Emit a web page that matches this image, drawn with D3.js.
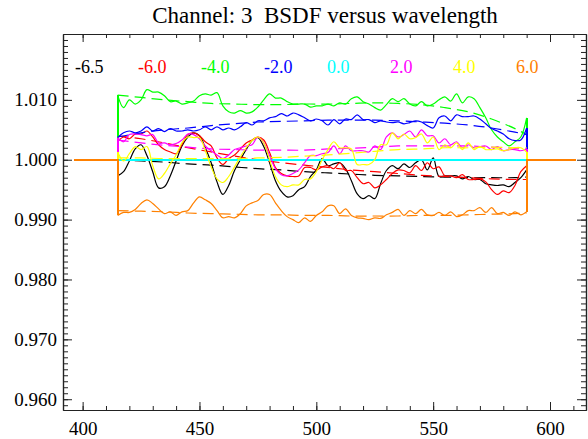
<!DOCTYPE html>
<html lang="en">
<head>
    <meta charset="UTF-8">
    <title>BSDF versus wavelength</title>
    <style>
        body { margin: 0; background: #fff; }
        text { font-family: "Liberation Serif", "Times New Roman", serif; }
    </style>
</head>
<body>
<script src="https://d3js.org/d3.v7.min.js"></script>

<div id="my_data"></div>

<script type="text/javascript">

    // wavelength grid (nm)
    var wavelengths = [415, 417.5, 420, 422.5, 425, 427.5, 430, 432.5, 435, 437.5,
        440, 442.5, 445, 447.5, 450, 452.5, 455, 457.5, 460, 462.5,
        465, 467.5, 470, 472.5, 475, 477.5, 480, 482.5, 485, 487.5,
        490, 492.5, 495, 497.5, 500, 502.5, 505, 507.5, 510, 512.5,
        515, 517.5, 520, 522.5, 525, 527.5, 530, 532.5, 535, 537.5,
        540, 542.5, 545, 547.5, 550, 552.5, 555, 557.5, 560, 562.5,
        565, 567.5, 570, 572.5, 575, 577.5, 580, 582.5, 585, 587.5,
        590];
    var fitWavelengths = [415, 425, 435, 445, 455, 465, 475, 485, 495, 505,
        515, 525, 535, 545, 555, 565, 575, 585, 590];
    // outside the measured range everything sits at 1.0
    var edgeWavelengths = [396.5, 611];
    var baseValue = 1.0;

    var angleLabels = ["-6.5", "-6.0", "-4.0", "-2.0", "0.0", "2.0", "4.0", "6.0"];
    var colors = ["#000000", "#ff0000", "#00ff00", "#0000ff", "#00ffff", "#ff00ff", "#ffff00", "#ff8000"];

    var bsdfM65 = [0.9973, 0.9980, 0.9998, 1.0018, 1.0025, 1.0007, 0.9980, 0.9953, 0.9955, 0.9973,
        0.9998, 1.0023, 1.0038, 1.0045, 1.0040, 1.0020, 0.9995, 0.9963, 0.9942, 0.9957,
        0.9982, 1.0000, 1.0017, 1.0032, 1.0037, 1.0022, 0.9995, 0.9965, 0.9947, 0.9938,
        0.9940, 0.9950, 0.9955, 0.9972, 0.9983, 1.0002, 0.9990, 0.9993, 0.9995, 0.9985,
        0.9965, 0.9943, 0.9935, 0.9940, 0.9935, 0.9960, 0.9982, 0.9990, 0.9985, 0.9993,
        0.9987, 0.9995, 1.0000, 0.9983, 1.0003, 0.9972, 0.9973, 0.9973, 0.9973, 0.9968,
        0.9972, 0.9967, 0.9967, 0.9960, 0.9958, 0.9957, 0.9958, 0.9955, 0.9962, 0.9970,
        0.9983];
    var bsdfM60 = [1.0030, 1.0038, 1.0035, 1.0043, 1.0043, 1.0048, 1.0038, 1.0025, 1.0017, 1.0013,
        1.0010, 1.0025, 1.0042, 1.0045, 1.0040, 1.0030, 1.0023, 1.0003, 0.9992, 1.0002,
        1.0008, 1.0018, 1.0028, 1.0033, 1.0038, 1.0033, 1.0012, 0.9987, 0.9977, 0.9973,
        0.9972, 0.9973, 0.9987, 0.9987, 0.9983, 0.9988, 0.9990, 0.9985, 0.9995, 0.9982,
        0.9982, 0.9970, 0.9960, 0.9962, 0.9953, 0.9958, 0.9967, 0.9977, 0.9983, 0.9982,
        0.9978, 0.9990, 0.9982, 0.9995, 0.9985, 0.9988, 0.9973, 0.9973, 0.9970, 0.9975,
        0.9967, 0.9967, 0.9968, 0.9963, 0.9950, 0.9942, 0.9948, 0.9945, 0.9957, 0.9980,
        0.9990];
    var bsdfM40 = [1.0108, 1.0087, 1.0100, 1.0093, 1.0100, 1.0117, 1.0113, 1.0113, 1.0107, 1.0097,
        1.0098, 1.0093, 1.0095, 1.0098, 1.0107, 1.0110, 1.0108, 1.0112, 1.0090, 1.0080,
        1.0078, 1.0082, 1.0078, 1.0080, 1.0088, 1.0100, 1.0110, 1.0103, 1.0103, 1.0097,
        1.0093, 1.0093, 1.0093, 1.0088, 1.0090, 1.0090, 1.0093, 1.0090, 1.0095, 1.0093,
        1.0102, 1.0105, 1.0097, 1.0093, 1.0087, 1.0083, 1.0092, 1.0102, 1.0097, 1.0102,
        1.0093, 1.0090, 1.0097, 1.0090, 1.0093, 1.0100, 1.0105, 1.0098, 1.0110, 1.0095,
        1.0105, 1.0102, 1.0087, 1.0070, 1.0050, 1.0038, 1.0030, 1.0023, 1.0030, 1.0038,
        1.0070];
    var bsdfM20 = [1.0037, 1.0045, 1.0048, 1.0045, 1.0048, 1.0055, 1.0048, 1.0052, 1.0047, 1.0052,
        1.0048, 1.0048, 1.0050, 1.0048, 1.0050, 1.0055, 1.0050, 1.0055, 1.0050, 1.0053,
        1.0050, 1.0055, 1.0062, 1.0058, 1.0065, 1.0065, 1.0070, 1.0072, 1.0077, 1.0073,
        1.0078, 1.0075, 1.0070, 1.0065, 1.0068, 1.0065, 1.0058, 1.0067, 1.0060, 1.0068,
        1.0067, 1.0075, 1.0067, 1.0067, 1.0062, 1.0065, 1.0063, 1.0062, 1.0063, 1.0060,
        1.0062, 1.0065, 1.0063, 1.0057, 1.0053, 1.0070, 1.0073, 1.0065, 1.0075, 1.0072,
        1.0072, 1.0073, 1.0068, 1.0060, 1.0052, 1.0048, 1.0043, 1.0035, 1.0032, 1.0033,
        1.0053];
    var bsdf00 = [1.0000, 1.0000, 1.0000, 1.0000, 1.0000, 1.0000, 1.0000, 1.0000, 1.0000, 1.0000,
        1.0000, 1.0000, 1.0000, 1.0000, 1.0000, 1.0000, 1.0000, 1.0000, 1.0000, 1.0000,
        1.0000, 1.0000, 1.0000, 1.0000, 1.0000, 1.0000, 1.0000, 1.0000, 1.0000, 1.0000,
        1.0000, 1.0000, 1.0000, 1.0000, 1.0000, 1.0000, 1.0000, 1.0000, 1.0000, 1.0000,
        1.0000, 1.0000, 1.0000, 1.0000, 1.0000, 1.0000, 1.0000, 1.0000, 1.0000, 1.0000,
        1.0000, 1.0000, 1.0000, 1.0000, 1.0000, 1.0000, 1.0000, 1.0000, 1.0000, 1.0000,
        1.0000, 1.0000, 1.0000, 1.0000, 1.0000, 1.0000, 1.0000, 1.0000, 1.0000, 1.0000,
        1.0000];
    var bsdfP20 = [1.0037, 1.0030, 1.0042, 1.0043, 1.0042, 1.0040, 1.0042, 1.0028, 1.0028, 1.0025,
        1.0027, 1.0033, 1.0043, 1.0042, 1.0035, 1.0023, 1.0015, 1.0008, 1.0002, 1.0008,
        1.0017, 1.0020, 1.0023, 1.0025, 1.0038, 1.0028, 1.0007, 0.9985, 0.9975, 0.9973,
        0.9977, 0.9983, 0.9995, 1.0007, 1.0007, 1.0010, 1.0012, 1.0023, 1.0010, 1.0023,
        1.0015, 1.0015, 1.0015, 1.0013, 1.0023, 1.0017, 1.0038, 1.0045, 1.0038, 1.0042,
        1.0048, 1.0038, 1.0050, 1.0040, 1.0040, 1.0028, 1.0035, 1.0025, 1.0030, 1.0020,
        1.0025, 1.0020, 1.0022, 1.0023, 1.0017, 1.0022, 1.0015, 1.0017, 1.0017, 1.0015,
        1.0018];
    var bsdfP40 = [1.0013, 0.9998, 1.0010, 1.0022, 1.0017, 1.0022, 0.9990, 0.9968, 0.9977, 0.9993,
        1.0008, 1.0028, 1.0038, 1.0037, 1.0037, 1.0015, 0.9988, 0.9968, 0.9962, 0.9972,
        0.9988, 1.0005, 1.0020, 1.0032, 1.0038, 1.0028, 1.0000, 0.9972, 0.9958, 0.9955,
        0.9958, 0.9958, 0.9967, 0.9968, 0.9980, 1.0000, 1.0017, 1.0030, 1.0020, 1.0020,
        1.0018, 0.9992, 0.9992, 0.9992, 1.0000, 1.0025, 1.0025, 1.0045, 1.0035, 1.0043,
        1.0035, 1.0037, 1.0043, 1.0028, 1.0038, 1.0017, 1.0025, 1.0020, 1.0028, 1.0017,
        1.0028, 1.0017, 1.0022, 1.0017, 1.0017, 1.0018, 1.0015, 1.0017, 1.0020, 1.0020,
        1.0013];
    var bsdfP60 = [0.9907, 0.9912, 0.9912, 0.9917, 0.9927, 0.9933, 0.9927, 0.9918, 0.9910, 0.9913,
        0.9907, 0.9913, 0.9915, 0.9928, 0.9938, 0.9933, 0.9927, 0.9915, 0.9903, 0.9905,
        0.9903, 0.9910, 0.9923, 0.9928, 0.9932, 0.9942, 0.9942, 0.9928, 0.9915, 0.9905,
        0.9900, 0.9895, 0.9903, 0.9897, 0.9907, 0.9913, 0.9923, 0.9923, 0.9910, 0.9918,
        0.9907, 0.9903, 0.9902, 0.9900, 0.9903, 0.9902, 0.9908, 0.9912, 0.9917, 0.9907,
        0.9915, 0.9910, 0.9917, 0.9908, 0.9907, 0.9912, 0.9907, 0.9913, 0.9905, 0.9908,
        0.9915, 0.9915, 0.9920, 0.9912, 0.9920, 0.9910, 0.9912, 0.9907, 0.9913, 0.9908,
        0.9913];

    // smooth fits (dashed)
    var fitM65 = [1.0000, 0.9998, 0.9996, 0.9993, 0.9991, 0.9988, 0.9985, 0.9983, 0.9980, 0.9978,
        0.9976, 0.9974, 0.9973, 0.9972, 0.9971, 0.9970, 0.9970, 0.9970, 0.9971];
    var fitM60 = [1.0040, 1.0035, 1.0028, 1.0020, 1.0013, 1.0006, 1.0000, 0.9995, 0.9991, 0.9987,
        0.9983, 0.9980, 0.9977, 0.9974, 0.9972, 0.9970, 0.9968, 0.9967, 0.9967];
    var fitM40 = [1.0108, 1.0104, 1.0100, 1.0097, 1.0094, 1.0093, 1.0092, 1.0092, 1.0093, 1.0093,
        1.0094, 1.0095, 1.0094, 1.0092, 1.0087, 1.0080, 1.0068, 1.0052, 1.0042];
    var fitM20 = [1.0038, 1.0045, 1.0050, 1.0053, 1.0057, 1.0060, 1.0063, 1.0064, 1.0065, 1.0066,
        1.0066, 1.0066, 1.0065, 1.0063, 1.0061, 1.0058, 1.0053, 1.0046, 1.0042];
    var fit00 = [1.0000, 1.0000, 1.0000, 1.0000, 1.0000, 1.0000, 1.0000, 1.0000, 1.0000, 1.0000,
        1.0000, 1.0000, 1.0000, 1.0000, 1.0000, 1.0000, 1.0000, 1.0000, 1.0000];
    var fitP20 = [1.0033, 1.0028, 1.0024, 1.0021, 1.0018, 1.0017, 1.0016, 1.0016, 1.0016, 1.0018,
        1.0019, 1.0021, 1.0023, 1.0023, 1.0023, 1.0023, 1.0021, 1.0019, 1.0018];
    var fitP40 = [1.0003, 1.0003, 1.0002, 1.0002, 1.0002, 1.0002, 1.0003, 1.0004, 1.0006, 1.0008,
        1.0011, 1.0014, 1.0017, 1.0018, 1.0020, 1.0020, 1.0021, 1.0020, 1.0020];
    var fitP60 = [0.9915, 0.9914, 0.9913, 0.9911, 0.9910, 0.9909, 0.9908, 0.9908, 0.9907, 0.9907,
        0.9906, 0.9906, 0.9906, 0.9907, 0.9907, 0.9908, 0.9909, 0.9910, 0.9911];

    var xMajor = [400, 450, 500, 550, 600];
    var yMajor = [0.960, 0.970, 0.980, 0.990, 1.000, 1.010];

    var seriesList = [bsdfM65, bsdfM60, bsdfM40, bsdfM20, bsdf00, bsdfP20, bsdfP40, bsdfP60];
    var fitList = [fitM65, fitM60, fitM40, fitM20, fit00, fitP20, fitP40, fitP60];

    var margin = { top: 34, right: 2, bottom: 29, left: 63 },
        width = 588 - margin.left - margin.right,
        height = 439 - margin.top - margin.bottom;

    var root = d3
        .select("#my_data")
        .append("svg")
        .attr("width", width + margin.left + margin.right)
        .attr("height", height + margin.top + margin.bottom);

    var svg = root
        .append("g")
        .attr("transform", "translate(" + margin.left + "," + margin.top + ")");

    var x = d3.scaleLinear().domain([391.6, 615.4]).range([0, width]);
    var y = d3.scaleLinear().domain([0.9582, 1.0210]).range([height, 0]);

    // 坐标轴 (ticks point inward, IDL style)
    var minorX = d3.range(400, 615, 10);
    var minorY = d3.range(959, 1021, 1).map(function(d) { return d / 1000; });

    function styleAxis(g) {
        g.select(".domain").attr("stroke", "#222").attr("stroke-width", 1.2);
        g.selectAll(".tick line").attr("stroke", "#222");
        g.selectAll(".tick text")
            .attr("fill", "#000")
            .style("font-family", "'Liberation Serif', serif")
            .style("font-size", "19px");
    }

    svg.append("g")
        .attr("transform", "translate(0," + height + ")")
        .call(d3.axisBottom(x).tickValues(minorX).tickSize(-4).tickFormat("").tickSizeOuter(0))
        .call(styleAxis);
    svg.append("g")
        .attr("transform", "translate(0," + height + ")")
        .call(d3.axisBottom(x).tickValues(xMajor).tickSize(-8).tickPadding(12).tickFormat(d3.format("d")).tickSizeOuter(0))
        .call(styleAxis);

    svg.append("g")
        .call(d3.axisTop(x).tickValues(minorX).tickSize(-4).tickFormat("").tickSizeOuter(0))
        .call(styleAxis);
    svg.append("g")
        .call(d3.axisTop(x).tickValues(xMajor).tickSize(-8).tickFormat("").tickSizeOuter(0))
        .call(styleAxis);

    svg.append("g")
        .call(d3.axisLeft(y).tickValues(minorY).tickSize(-5).tickFormat("").tickSizeOuter(0))
        .call(styleAxis);
    svg.append("g")
        .call(d3.axisLeft(y).tickValues(yMajor).tickSize(-9).tickPadding(6).tickFormat(d3.format(".3f")).tickSizeOuter(0))
        .call(styleAxis);

    svg.append("g")
        .attr("transform", "translate(" + width + ",0)")
        .call(d3.axisRight(y).tickValues(minorY).tickSize(-5).tickFormat("").tickSizeOuter(0))
        .call(styleAxis);
    svg.append("g")
        .attr("transform", "translate(" + width + ",0)")
        .call(d3.axisRight(y).tickValues(yMajor).tickSize(-9).tickFormat("").tickSizeOuter(0))
        .call(styleAxis);

    // 数据曲线
    var plot = svg.append("g");

    var smooth = d3.line()
        .x(function(d) { return x(d[0]); })
        .y(function(d) { return y(d[1]); })
        .curve(d3.curveCatmullRom.alpha(0.5));

    var straight = d3.line()
        .x(function(d) { return x(d[0]); })
        .y(function(d) { return y(d[1]); });

    var first = wavelengths[0], last = wavelengths[wavelengths.length - 1];

    seriesList.forEach(function(vals, i) {
        var pts = wavelengths.map(function(w, j) { return [w, vals[j]]; });
        var fit = fitWavelengths.map(function(w, j) { return [w, fitList[i][j]]; });

        // flat ends + jumps
        plot.append("path")
            .attr("d", straight([[edgeWavelengths[0], baseValue], [first, baseValue], [first, vals[0]]]))
            .attr("fill", "none").attr("stroke", colors[i]).attr("stroke-width", 2)
            .attr("shape-rendering", "crispEdges");
        plot.append("path")
            .attr("d", straight([[last, vals[vals.length - 1]], [last, baseValue], [edgeWavelengths[1], baseValue]]))
            .attr("fill", "none").attr("stroke", colors[i]).attr("stroke-width", 2)
            .attr("shape-rendering", "crispEdges");

        if (i === 4) {
            // the 0.0 curve is flat
            plot.append("path")
                .attr("d", straight(pts))
                .attr("fill", "none")
                .attr("stroke", colors[i])
                .attr("stroke-width", 2)
                .attr("shape-rendering", "crispEdges");
        } else {
            plot.append("path")
                .attr("d", smooth(pts))
                .attr("fill", "none")
                .attr("stroke", colors[i])
                .attr("stroke-width", 1.2);
        }

        plot.append("path")
            .attr("d", smooth(fit))
            .attr("fill", "none")
            .attr("stroke", colors[i])
            .attr("stroke-width", 1.2)
            .attr("stroke-dasharray", "11,6");
    });

    // 图例
    svg.selectAll(".legend")
        .data(angleLabels)
        .enter()
        .append("text")
        .attr("class", "legend")
        .attr("x", function(d, i) { return 12 + i * 63; })
        .attr("y", 39)
        .style("font-size", "18px")
        .attr("fill", function(d, i) { return colors[i]; })
        .text(function(d) { return d; });

    // 图片标题
    root.append("text")
        .attr("x", 325)
        .attr("y", 23)
        .attr("text-anchor", "middle")
        .style("font-size", "23px")
        .style("white-space", "pre")
        .text("Channel: 3  BSDF versus wavelength");

</script>
</body>
</html>
